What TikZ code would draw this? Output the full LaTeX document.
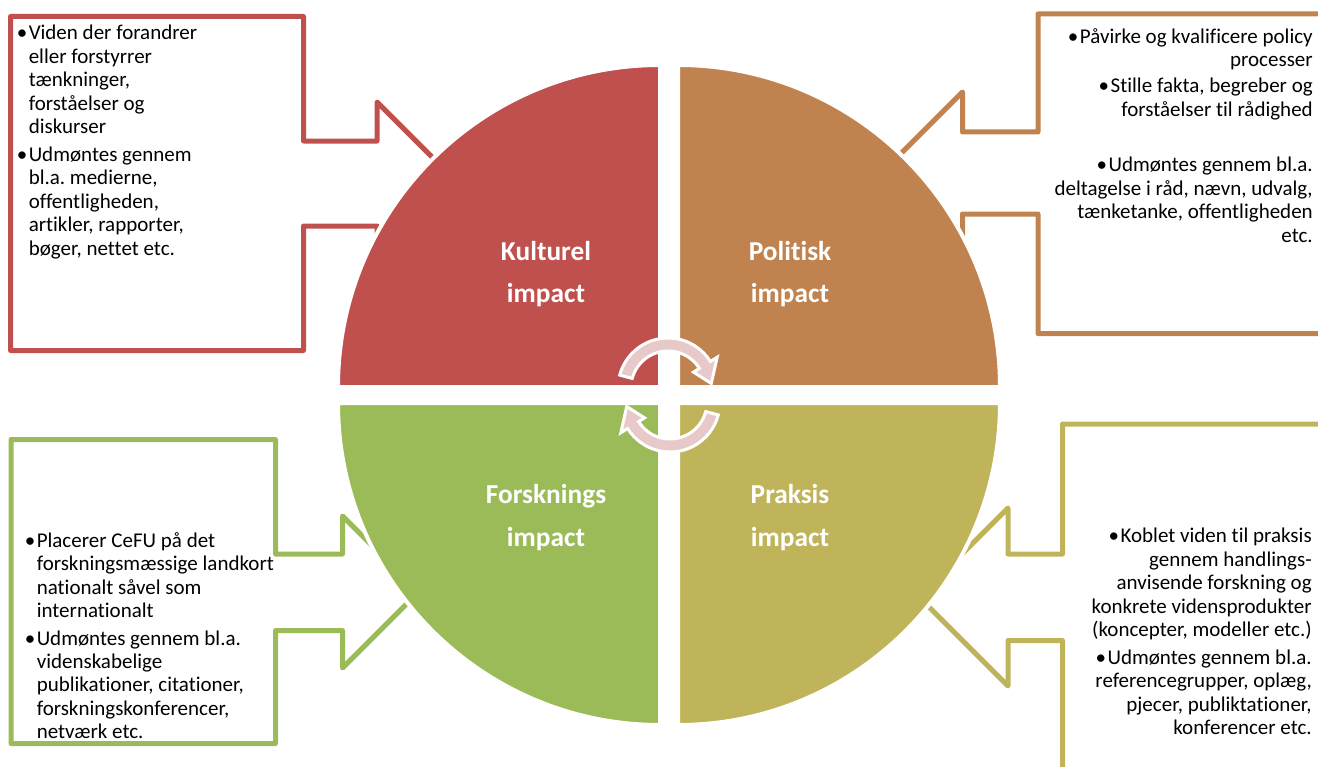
\documentclass[tikz,border=0pt]{standalone}
\usepackage{fontspec}
\setmainfont{Carlito}[Ligatures=NoCommon]
\frenchspacing
\definecolor{kultur}{HTML}{C0504D}
\definecolor{politik}{HTML}{C0834F}
\definecolor{forskning}{HTML}{9BBB59}
\definecolor{praksis}{HTML}{C0B45A}
\definecolor{cyklus}{HTML}{E8C9C9}
\newcommand\bul{\makebox[9pt][l]{\textbullet}}
\newcommand\ind{\hspace*{9pt}}
\begin{document}
\begin{tikzpicture}[x=0.75pt, y=-0.75pt, line join=round,
	callout/.style={draw=#1, line width=3.75pt},
	quarter/.style={fill=#1, draw=white, line width=3pt},
	punkt/.style={inner sep=0pt, font=\fontsize{15.75}{17.6}\selectfont},
	titel/.style={inner sep=0pt, text=white, align=center, font=\bfseries\fontsize{20.5}{32}\selectfont},
	cykpil/.style={fill=cyklus, draw=white, line width=2.25pt, line join=miter}]
	\useasboundingbox (0,0) rectangle (1318,767);
	\clip (0,0) rectangle (1318,767);
	% callouts
	\draw[callout=kultur] (10.5,16.5) -- (303.5,16.5) -- (303.5,141) -- (377,141) -- (377,102)
		-- (458.5,183.5) -- (377,265) -- (377,226) -- (303.5,226) -- (303.5,350.5) -- (10.5,350.5) -- cycle;
	\draw[callout=politik] (1038,14) -- (1340,14) -- (1340,333.5) -- (1038,333.5) -- (1038,214)
		-- (962.5,214) -- (962.5,254) -- (881.5,173) -- (962.5,92) -- (962.5,132) -- (1038,132) -- cycle;
	\draw[callout=forskning] (11,439.5) -- (275.5,439.5) -- (275.5,554) -- (342.5,554) -- (342.5,516)
		-- (418.5,592) -- (342.5,668) -- (342.5,630.5) -- (275.5,630.5) -- (275.5,743.5) -- (11,743.5) -- cycle;
	\draw[callout=praksis] (1062.5,424) -- (1340,424) -- (1340,800) -- (1062.5,800) -- (1062.5,640.5)
		-- (1008,640.5) -- (1008,686) -- (919,597) -- (1008,508) -- (1008,554) -- (1062.5,554) -- cycle;
	% circle in four quarters
	\foreach \col/\cx/\cy/\a in {kultur/660/387/180, politik/678/387/270, forskning/660/403/90, praksis/678/403/0}{
		\draw[quarter=\col] (\cx,\cy) -- ++(\a:322) arc[start angle=\a, delta angle=90, radius=322] -- cycle;
	}
	\node[titel] (kulturel) at (546,274) {Kulturel\\impact};
	\node[titel] (politisk) at (790,274) {Politisk\\impact};
	\node[titel] (forsknings) at (546,517.5) {Forsknings\\impact};
	\node[titel] (praksisl) at (790,517.5) {Praksis\\impact};
	% cycle arrows
	\coordinate (ctop) at (668,388);
	\coordinate (cbot) at (670,402);
	\foreach \cc/\rot in {ctop/0, cbot/180}{
		\draw[cykpil, shift={(\cc)}, rotate=\rot] (-165:50) arc[start angle=-165, end angle=-32, radius=50]
			-- (-32:58) -- (-6:43.5) -- (-32:30) -- (-32:37) arc[start angle=-32, end angle=-165, radius=37] -- cycle;
	}
	% texts
	\node[punkt, anchor=north west, align=left] (kulturtekst) at (16.5,25) {\bul Viden der forandrer\\ \ind eller forstyrrer\\
		\ind tænkninger,\\ \ind forståelser og\\ \ind diskurser\\[3pt] \bul Udmøntes gennem\\ \ind bl.a. medierne,\\
		\ind offentligheden,\\ \ind artikler, rapporter,\\ \ind bøger, nettet etc.};
	\node[punkt, anchor=north east, align=right] (politiktekst) at (1313,28) {\bul Påvirke og kvalificere policy\\ processer\\[2pt]
		\bul Stille fakta, begreber og\\ forståelser til rådighed\\[24pt] \bul Udmøntes gennem bl.a.\\
		deltagelse i råd, nævn, udvalg,\\ tænketanke, offentligheden\\ etc.};
	\node[punkt, anchor=north west, align=left] (forskningtekst) at (24.5,532) {\bul Placerer CeFU på det\\
		\ind forskningsmæssige landkort\\ \ind nationalt såvel som\\ \ind internationalt\\[3pt] \bul Udmøntes gennem bl.a.\\
		\ind videnskabelige\\ \ind publikationer, citationer,\\ \ind forskningskonferencer,\\ \ind netværk etc.};
	\node[punkt, anchor=north east, align=right] (praksistekst) at (1312,528) {\bul Koblet viden til praksis\\
		gennem handlings-\\ anvisende forskning og\\ konkrete vidensprodukter\\ (koncepter, modeller etc.)\\[3pt]
		\bul Udmøntes gennem bl.a.\\ referencegrupper, oplæg,\\ pjecer, publiktationer,\\ konferencer etc.};
\end{tikzpicture}
\end{document}
